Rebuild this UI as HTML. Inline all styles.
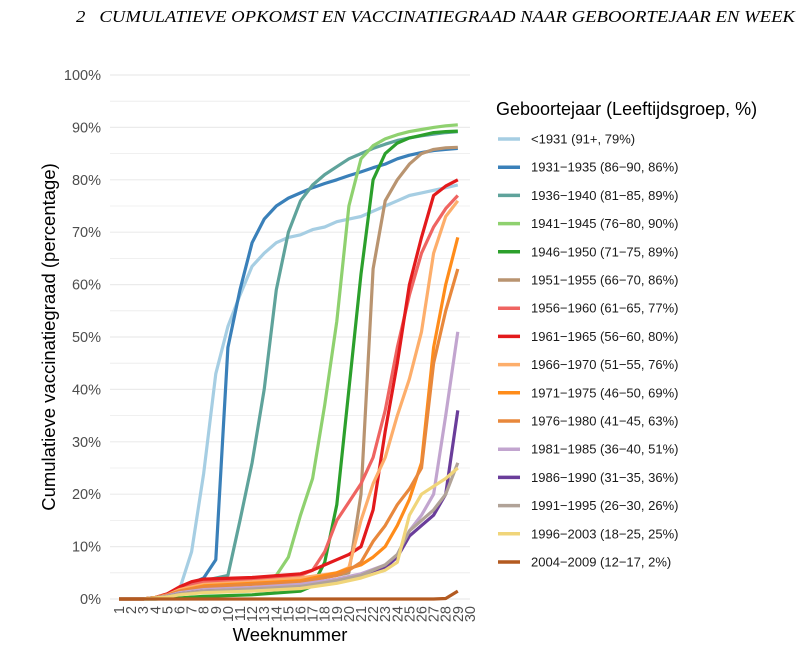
<!DOCTYPE html>
<html><head><meta charset="utf-8"><style>
body{margin:0;background:#fff;width:800px;height:648px;overflow:hidden}
svg{display:block}
text{font-family:"Liberation Sans",sans-serif}
</style></head><body>
<svg id="s" width="800" height="648" xmlns="http://www.w3.org/2000/svg">
<text x="76" y="22" textLength="719" lengthAdjust="spacingAndGlyphs" style="font-family:'Liberation Serif',serif;font-style:italic;font-size:16.5px" fill="#000">2&#160;&#160;&#160;CUMULATIEVE OPKOMST EN VACCINATIEGRAAD NAAR GEBOORTEJAAR EN WEEK</text>
<g id="grid"></g><g id="lines" fill="none" stroke-width="3.2" stroke-linejoin="round"></g>
<text transform="translate(55,337) rotate(-90)" text-anchor="middle" font-size="18.5" fill="#000">Cumulatieve vaccinatiegraad (percentage)</text>
<text x="290" y="641" text-anchor="middle" font-size="18.5" fill="#000">Weeknummer</text>
<text x="496" y="115" font-size="18" fill="#000">Geboortejaar (Leeftijdsgroep, %)</text>
<g id="leg"></g>
</svg>
<script>
const X=w=>119+(w-1)*12.1, Y=p=>599-5.24*p;
const g=document.getElementById('grid'),L=document.getElementById('lines'),lg=document.getElementById('leg');
let h='';
for(let p=0;p<=100;p+=5){h+=`<line x1="110" x2="470" y1="${Y(p)}" y2="${Y(p)}" stroke="#ebebeb" stroke-width="${p%10?0.8:1.2}"/>`;
 if(p%10==0)h+=`<text x="101" y="${Y(p)+5}" text-anchor="end" font-size="14.5" fill="#4d4d4d">${p}%</text>`;}
for(let w=1;w<=30;w++)h+=`<text transform="translate(${X(w)+5},${606}) rotate(-90)" text-anchor="end" font-size="14.5" fill="#4d4d4d">${w}</text>`;
g.innerHTML=h;
const S=[
["<1931 (91+, 79%)","#a6cee3",[[1,0],[3,0],[4,.3],[5,.8],[6,1.8],[7,9],[8,24],[9,43],[10,52],[11,58],[12,63.5],[13,66],[14,68],[15,69],[16,69.5],[17,70.5],[18,71],[19,72],[20,72.5],[21,73],[22,74],[23,75],[24,76],[25,77],[26,77.5],[27,78],[28,78.5],[29,79]]],
["1931\u22121935 (86\u221290, 86%)","#3a80b9",[[1,0],[3,0],[4,.3],[5,.8],[6,2],[7,3],[8,4],[9,7.5],[10,48],[11,59],[12,68],[13,72.5],[14,75],[15,76.5],[16,77.5],[17,78.5],[18,79.3],[19,80],[20,80.8],[21,81.5],[22,82.3],[23,83],[24,84],[25,84.7],[26,85.2],[27,85.6],[28,85.8],[29,86]]],
["1936\u22121940 (81\u221285, 89%)","#5fa39b",[[1,0],[3,0],[4,.3],[5,.8],[6,2],[7,3],[8,3.5],[9,4],[10,4.5],[11,15],[12,26],[13,40],[14,59],[15,70],[16,76],[17,79],[18,81],[19,82.5],[20,84],[21,85],[22,86],[23,86.8],[24,87.5],[25,88],[26,88.4],[27,88.7],[28,89],[29,89.2]]],
["1941\u22121945 (76\u221280, 90%)","#8fd16f",[[1,0],[3,0],[4,.3],[5,.8],[6,1.8],[7,2.6],[8,3],[10,3.3],[13,3.8],[14,4.5],[15,8],[16,16],[17,23],[18,37],[19,53],[20,75],[21,84],[22,86.5],[23,87.8],[24,88.6],[25,89.2],[26,89.6],[27,90],[28,90.3],[29,90.5]]],
["1946\u22121950 (71\u221275, 89%)","#2ca02c",[[1,0],[4,0],[6,.2],[8,.5],[12,.8],[16,1.5],[17,2.5],[18,7],[19,18],[20,40],[21,62],[22,80],[23,85],[24,87],[25,88],[26,88.5],[27,89],[28,89.2],[29,89.3]]],
["1951\u22121955 (66\u221270, 86%)","#b99470",[[1,0],[3,0],[4,.3],[5,.8],[6,1.5],[8,2.3],[12,2.8],[16,3.5],[19,4.5],[20,5],[21,20],[22,63],[23,76],[24,80],[25,83],[26,85],[27,85.8],[28,86.1],[29,86.2]]],
["1956\u22121960 (61\u221265, 77%)","#ef6461",[[1,0],[3,0],[4,.3],[5,.8],[6,2],[8,3.3],[12,3.8],[16,4.5],[17,5.5],[18,9],[19,15],[20,18.5],[21,22],[22,27],[23,36],[24,48],[25,58],[26,66],[27,71],[28,74.5],[29,77]]],
["1961\u22121965 (56\u221260, 80%)","#e31a1c",[[1,0],[3,0],[4,.3],[5,1],[6,2.3],[7,3.3],[8,3.8],[12,4.1],[16,4.8],[17,5.5],[18,6.5],[19,7.5],[20,8.5],[21,10],[22,17],[23,32],[24,45],[25,60],[26,69],[27,77],[28,78.8],[29,80]]],
["1966\u22121970 (51\u221255, 76%)","#fdae6b",[[1,0],[3,0],[4,.3],[5,.8],[6,1.8],[8,2.8],[12,3.3],[16,4],[19,5],[20,6],[21,15],[22,22],[23,27],[24,35],[25,42],[26,51],[27,66],[28,73],[29,76]]],
["1971\u22121975 (46\u221250, 69%)","#ff8c1a",[[1,0],[3,0],[4,.3],[5,.7],[6,1.5],[8,2.5],[12,3],[16,3.5],[19,5],[20,5.8],[21,6.5],[22,8],[23,10],[24,14],[25,19],[26,26],[27,48],[28,60],[29,69]]],
["1976\u22121980 (41\u221245, 63%)","#e8883c",[[1,0],[3,0],[4,.3],[5,.7],[6,1.5],[8,2.3],[12,2.8],[16,3.2],[19,4.5],[20,5.5],[21,7],[22,11],[23,14],[24,18],[25,21],[26,25],[27,45],[28,55],[29,63]]],
["1981\u22121985 (36\u221240, 51%)","#c2a5cf",[[1,0],[3,0],[4,.2],[5,.6],[6,1.2],[8,1.8],[12,2.2],[16,2.8],[19,3.8],[21,4.8],[23,6.5],[24,8],[25,13],[26,16],[27,20],[28,35],[29,51]]],
["1986\u22121990 (31\u221235, 36%)","#6a3d9a",[[1,0],[3,0],[4,.2],[5,.5],[6,1],[8,1.5],[12,1.8],[16,2.3],[19,3.3],[21,4.3],[23,6],[24,8],[25,12],[26,14],[27,16],[28,20],[29,36]]],
["1991\u22121995 (26\u221230, 26%)","#b1a398",[[1,0],[3,0],[4,.2],[5,.5],[6,1],[8,1.5],[12,1.9],[16,2.4],[19,3.5],[21,4.5],[23,6.5],[24,8.5],[25,13],[26,15],[27,17],[28,20],[29,26]]],
["1996\u22122003 (18\u221225, 25%)","#f0d57a",[[1,0],[3,0],[4,.2],[5,.4],[6,.8],[8,1.2],[12,1.5],[16,2],[19,3],[21,4],[23,5.5],[24,7],[25,16],[26,20],[27,21.5],[28,23],[29,25]]],
["2004\u22122009 (12\u221217, 2%)","#b35a20",[[1,0],[27,0],[28,.1],[29,1.5]]]
];
let lh='',gh='';
S.forEach((s,i)=>{lh+=`<polyline stroke="${s[1]}" points="${s[2].map(q=>X(q[0]).toFixed(1)+','+Y(q[1]).toFixed(1)).join(' ')}"/>`;
 const y=139+i*28.2;gh+=`<line x1="498" x2="520" y1="${y}" y2="${y}" stroke="${s[1]}" stroke-width="3.5"/><text x="531" y="${y+4.5}" font-size="13" fill="#1a1a1a">${s[0].replace('<','&lt;')}</text>`;});
L.innerHTML=lh;lg.innerHTML=gh;
</script>
</body></html>
